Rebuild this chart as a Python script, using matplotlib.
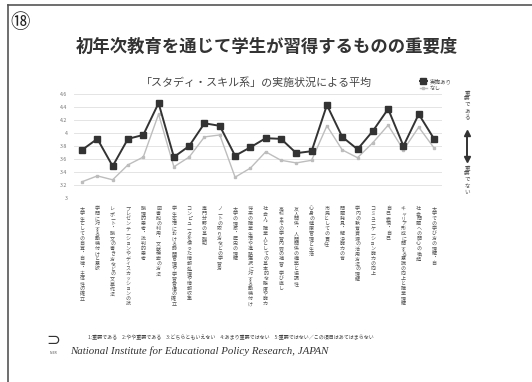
import matplotlib
matplotlib.use("Agg")
import matplotlib.pyplot as plt
from matplotlib.lines import Line2D

plt.rcParams['font.family'] = ['Noto Sans CJK JP', 'DejaVu Sans']

W, H = 532, 382

# --- data -------------------------------------------------------------
categories = [
    "大学生としての自覚・自律・主体性の確立",
    "学問に対する動機付けと意欲",
    "レポート・論文の書き方などの文章作法",
    "プレゼンテーションやディスカッションの技法",
    "論理的思考・批判的思考",
    "図書館の利用・文献検索の方法",
    "学生生活における時間管理や学習習慣の確立",
    "コンピュータを使った情報処理や情報収集",
    "専門分野の基礎知識",
    "ノートの取り方などの学習方法",
    "大学の理念・歴史の理解",
    "将来の職業生活や進路選択に対する動機付け",
    "社会人・職業人としての基本的な態度や能力",
    "高校までの学習内容の補習・学び直し",
    "友人関係・人間関係の構築と協調性",
    "心身の健康管理と生活習慣",
    "市民としての責任感",
    "問題発見・解決能力の育成",
    "学内の教育資源の活用方法の理解",
    "コミュニケーション能力の向上",
    "自己表現・自己理解",
    "キャリア形成に関する意識の向上と職業理解",
    "社会問題への関心の喚起",
    "大学での学び方の理解・自主的学習",
]
# label lengths follow the printed column lengths
label_len = [20, 15, 20, 20, 11, 17, 20, 20, 8, 13, 12, 20,
             20, 20, 18, 10, 8, 11, 18, 15, 7, 20, 12, 12]

with_program = [3.74, 3.91, 3.49, 3.91, 3.97, 4.46, 3.63, 3.80, 4.15, 4.11, 3.65, 3.78,
                3.92, 3.91, 3.69, 3.72, 4.43, 3.94, 3.75, 4.03, 4.37, 3.80, 4.29, 3.91]
without_program = [3.25, 3.34, 3.28, 3.51, 3.63, 4.29, 3.48, 3.63, 3.94, 3.97, 3.32, 3.46,
                   3.71, 3.58, 3.54, 3.58, 4.11, 3.74, 3.62, 3.85, 4.12, 3.74, 4.09, 3.77]

series_names = ["実施あり", "なし"]
y_ticks = [3.0, 3.2, 3.4, 3.6, 3.8, 4.0, 4.2, 4.4, 4.6]
y_tick_labels = ["3", "3.2", "3.4", "3.6", "3.8", "4", "4.2", "4.4", "4.6"]

title = "初年次教育を通じて学生が習得するものの重要度"
subtitle = "「スタディ・スキル系」の実施状況による平均"
scale_note = ("1:重要である　2:やや重要である　3:どちらともいえない　"
              "4:あまり重要ではない　5:重要ではない／この項目はあてはまらない")
institute = "National Institute for Educational Policy Research, JAPAN"


def fx(x):
    return x / W


def fy(y):
    return 1 - y / H


fig = plt.figure(figsize=(W / 100, H / 100), dpi=100)
fig.patch.set_facecolor("white")

# page frame
fig.add_artist(Line2D([fx(8), fx(8)], [fy(5), fy(382)], color="#555555", lw=1.2))
fig.add_artist(Line2D([fx(8), fx(532)], [fy(5), fy(5)], color="#555555", lw=1.2))

fig.text(fx(20), fy(23), "⑱", fontsize=14, ha="center", va="center", color="#222222")
fig.text(fx(267), fy(47), title, fontsize=12.5, fontweight="bold",
         ha="center", va="center", color="#333333")

# --- chart --------------------------------------------------------------
x0, x1 = 74.4, 441.7
ytop, ybot = 94, 198
ax = fig.add_axes([fx(x0), fy(ybot), fx(x1) - fx(x0), (ybot - ytop) / H])
xs = list(range(len(categories)))

ax.plot(xs, without_program, color="#bdbdbd", lw=1.0, marker="s", ms=1.8,
        label=series_names[1], zorder=2)
ax.plot(xs, with_program, color="#333333", lw=1.4, marker="s", ms=3.8,
        label=series_names[0], zorder=3)

ax.set_xlim(-0.5, len(categories) - 0.5)
ax.set_ylim(3.0, 4.6)
ax.set_yticks(y_ticks)
ax.set_yticklabels(y_tick_labels, fontsize=3.8, color="#777777")
ax.yaxis.grid(True, color="#e4e4e4", lw=0.7)
ax.set_axisbelow(True)
for s in ax.spines.values():
    s.set_visible(False)
ax.tick_params(axis="both", length=0, pad=5)

short = [c[:n] for c, n in zip(categories, label_len)]
ax.set_xticks(xs)
ax.set_xticklabels(["\n".join(s) for s in short], fontsize=3.6, color="#555555",
                   va="top", linespacing=1.0)
ax.tick_params(axis="x", pad=6)

ax.set_title(subtitle, fontsize=7.9, color="#444444", pad=5.5, x=0.495)

handles, labels = ax.get_legend_handles_labels()
leg = ax.legend(handles[::-1], labels[::-1], loc="upper right",
                bbox_to_anchor=(1.04, 1.20), fontsize=4, frameon=False,
                handlelength=1.2, labelspacing=0.3, handletextpad=0.5)
for t in leg.get_texts():
    t.set_color("#555555")

# importance direction marker on the right
fig.add_artist(Line2D([fx(467), fx(467)], [fy(133), fy(159)], color="#333333", lw=1.4))
fig.add_artist(Line2D([fx(467)], [fy(133)], marker="^", ms=5, color="#333333"))
fig.add_artist(Line2D([fx(467)], [fy(159)], marker="v", ms=5, color="#333333"))
fig.text(fx(467), fy(90), "\n".join("重要である"), fontsize=4, ha="center", va="top",
         color="#555555", linespacing=1.3)
fig.text(fx(467), fy(165), "\n".join("重要でない"), fontsize=4, ha="center", va="top",
         color="#555555", linespacing=1.3)

# footer
fig.text(fx(88), fy(337), scale_note, fontsize=3.6, ha="left", va="center",
         color="#444444")
fig.text(fx(53), fy(340), "⊃", fontsize=12, ha="center", va="center",
         color="#333333", family=["DejaVu Sans"])
fig.text(fx(53), fy(353), "NIER", fontsize=2.5, ha="center", va="center", color="#555555")
fig.text(fx(70), fy(351), institute, fontsize=7.8, style="italic",
         family=["Liberation Serif", "DejaVu Serif"], ha="left", va="center",
         color="#333333")

fig.savefig("out.png", dpi=100, facecolor="white")
